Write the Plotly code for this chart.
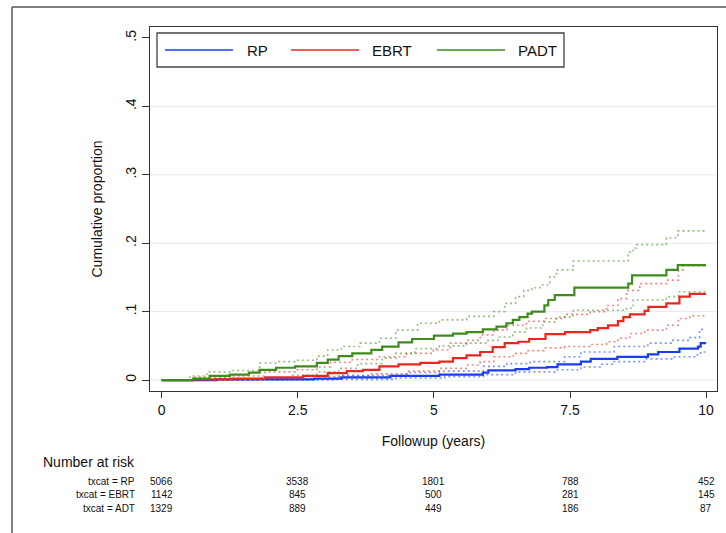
import plotly.graph_objects as go

# ---------------- data ----------------
SERIES_NAMES = ["RP", "EBRT", "PADT"]

# PADT (green)
padt_x = [0, 0.58, 0.88, 1.25, 1.6, 1.8, 2.1, 2.45, 2.85, 3.05, 3.25, 3.5, 3.85, 4.05, 4.35, 4.6, 5.0, 5.35,
          5.6, 5.9, 6.15, 6.33, 6.45, 6.57, 6.72, 6.8, 7.03, 7.1, 7.22, 7.58, 8.57, 8.64, 9.27, 9.48, 10.0]
padt_y = [0, 0.002, 0.006, 0.008, 0.011, 0.015, 0.018, 0.020, 0.025, 0.030, 0.035, 0.039, 0.044, 0.049, 0.055,
          0.060, 0.065, 0.068, 0.070, 0.074, 0.078, 0.083, 0.088, 0.092, 0.097, 0.100, 0.109, 0.117, 0.124,
          0.135, 0.141, 0.153, 0.161, 0.168, 0.168]
padt_hi_x = [0, 0.52, 0.83, 1.3, 1.8, 2.1, 2.45, 2.85, 3.05, 3.3, 3.64, 4.0, 4.3, 4.7, 5.1, 5.6, 6.1, 6.3, 6.5,
             6.65, 6.8, 6.95, 7.13, 7.25, 7.56, 8.57, 8.66, 8.72, 9.27, 9.48, 10.0]
padt_hi_y = [0, 0.006, 0.012, 0.014, 0.025, 0.027, 0.029, 0.035, 0.044, 0.049, 0.054, 0.061, 0.073, 0.083,
             0.088, 0.093, 0.100, 0.112, 0.122, 0.131, 0.135, 0.139, 0.151, 0.161, 0.174, 0.187, 0.193, 0.198,
             0.208, 0.218, 0.218]
padt_lo_x = [0, 1.8, 2.4, 2.85, 3.25, 3.6, 4.05, 4.3, 4.65, 5.1, 5.6, 5.95, 6.2, 6.45, 6.7, 7.0, 7.25, 7.56,
             8.54, 8.66, 9.27, 9.49, 10.0]
padt_lo_y = [0, 0.0025, 0.007, 0.012, 0.017, 0.024, 0.032, 0.039, 0.046, 0.050, 0.054, 0.058, 0.063, 0.070,
             0.076, 0.085, 0.092, 0.102, 0.105, 0.117, 0.122, 0.129, 0.129]

# EBRT (red)
ebrt_x = [0, 0.58, 1.3, 1.9, 2.6, 3.05, 3.4, 3.7, 4.0, 4.35, 4.75, 5.1, 5.35, 5.6, 5.85, 6.08, 6.3, 6.55, 6.75,
          7.05, 7.41, 7.87, 8.01, 8.2, 8.38, 8.48, 8.6, 8.87, 8.94, 9.27, 9.51, 9.7, 10.0]
ebrt_y = [0, 0.001, 0.002, 0.004, 0.006, 0.010, 0.013, 0.015, 0.020, 0.023, 0.025, 0.027, 0.032, 0.036, 0.041,
          0.048, 0.054, 0.056, 0.060, 0.067, 0.070, 0.073, 0.076, 0.080, 0.086, 0.092, 0.096, 0.101, 0.107,
          0.112, 0.122, 0.126, 0.126]
ebrt_hi_x = [0, 0.58, 1.3, 1.9, 2.45, 2.85, 3.1, 3.5, 4.0, 4.5, 4.99, 5.3, 5.6, 5.85, 6.1, 6.34, 6.7, 7.02, 7.4,
             7.87, 8.17, 8.38, 8.54, 8.78, 9.27, 9.49, 9.58, 10.0]
ebrt_hi_y = [0, 0.004, 0.006, 0.012, 0.015, 0.019, 0.026, 0.030, 0.034, 0.039, 0.044, 0.054, 0.058, 0.066,
             0.073, 0.080, 0.086, 0.090, 0.096, 0.100, 0.109, 0.119, 0.131, 0.141, 0.146, 0.161, 0.167, 0.167]
ebrt_lo_x = [0, 1.6, 2.6, 3.2, 3.8, 4.5, 5.1, 5.6, 5.85, 6.1, 6.46, 6.73, 7.02, 7.4, 7.87, 8.17, 8.38, 8.6,
             8.87, 9.27, 9.49, 9.7, 10.0]
ebrt_lo_y = [0, 0.001, 0.002, 0.006, 0.009, 0.013, 0.017, 0.022, 0.027, 0.034, 0.039, 0.043, 0.047, 0.049,
             0.052, 0.056, 0.061, 0.068, 0.073, 0.080, 0.090, 0.094, 0.094]

# RP (blue)
rp_x = [0, 1.0, 2.8, 3.3, 4.2, 5.1, 5.9, 6.0, 6.5, 6.75, 7.08, 7.27, 7.7, 7.88, 8.37, 8.93, 9.12, 9.51, 9.85,
        9.9, 10.0]
rp_y = [0, 0.001, 0.002, 0.004, 0.006, 0.008, 0.011, 0.014, 0.016, 0.018, 0.019, 0.023, 0.027, 0.031, 0.034,
        0.0375, 0.041, 0.046, 0.049, 0.054, 0.054]
rp_hi_x = [0, 1.6, 2.85, 3.3, 4.5, 5.1, 5.91, 6.34, 6.77, 7.4, 7.7, 8.31, 8.93, 9.36, 9.7, 9.88, 10.0]
rp_hi_y = [0, 0.002, 0.005, 0.007, 0.011, 0.013, 0.020, 0.024, 0.027, 0.034, 0.041, 0.049, 0.054, 0.058,
           0.062, 0.074, 0.074]
rp_lo_x = [0, 3.2, 4.3, 5.2, 5.91, 6.5, 7.27, 7.7, 8.05, 8.31, 8.9, 9.42, 9.82, 9.9, 10.0]
rp_lo_y = [0, 0.001, 0.003, 0.005, 0.008, 0.012, 0.015, 0.019, 0.023, 0.027, 0.031, 0.034, 0.037, 0.041,
           0.041]

# axis ticks
X_TICKS = [0, 2.5, 5, 7.5, 10]
X_TICK_TEXT = ["0", "2.5", "5", "7.5", "10"]
Y_TICKS = [0, 0.1, 0.2, 0.3, 0.4, 0.5]
Y_TICK_TEXT = ["0", ".1", ".2", ".3", ".4", ".5"]
GRID_Y = [0, 0.1, 0.2, 0.3, 0.4]

# number at risk
RISK_TIMES = [0, 2.5, 5, 7.5, 10]
RISK_LABELS = ["txcat = RP", "txcat = EBRT", "txcat = ADT"]
RISK_RP = [5066, 3538, 1801, 788, 452]
RISK_EBRT = [1142, 845, 500, 281, 145]
RISK_ADT = [1329, 889, 449, 186, 87]

# ---------------- style ----------------
FONT = "Liberation Sans, Arial, Helvetica, sans-serif"
COLORS = {"RP": "#1a3cf0", "EBRT": "#e8281e", "PADT": "#3f8c1c"}
AX = "#333333"

W, H = 726, 533
ML, MR, MT, MB = 150, 9, 27, 142
PW, PH = W - ML - MR, H - MT - MB


def px_x(px):
    return (px - ML) / PW


def px_y(py):
    return (H - MB - py) / PH


fig = go.Figure()

series = [
    ("RP", rp_x, rp_y, rp_hi_x, rp_hi_y, rp_lo_x, rp_lo_y),
    ("EBRT", ebrt_x, ebrt_y, ebrt_hi_x, ebrt_hi_y, ebrt_lo_x, ebrt_lo_y),
    ("PADT", padt_x, padt_y, padt_hi_x, padt_hi_y, padt_lo_x, padt_lo_y),
]

for name, x, y, hx, hy, lx, ly in series:
    c = COLORS[name]
    for cx, cy in ((hx, hy), (lx, ly)):
        fig.add_trace(go.Scatter(x=cx, y=cy, mode="lines", line_shape="hv",
                                 line=dict(color=c, width=1.6, dash="2px,3px"),
                                 opacity=0.55, showlegend=False, hoverinfo="skip"))
for name, x, y, hx, hy, lx, ly in series:
    fig.add_trace(go.Scatter(x=x, y=y, mode="lines", line_shape="hv", name=name,
                             line=dict(color=COLORS[name], width=2.2), showlegend=False))

shapes = []
# gridlines
for gy in GRID_Y:
    shapes.append(dict(type="line", xref="paper", yref="y", x0=0, x1=1, y0=gy, y1=gy,
                       line=dict(color="#e3ebed", width=1), layer="below"))
# outer frame (cropped on the right and bottom)
shapes.append(dict(type="line", xref="paper", yref="paper", x0=px_x(12), x1=px_x(12),
                   y0=px_y(540), y1=px_y(7), line=dict(color="#555555", width=1.5)))
shapes.append(dict(type="line", xref="paper", yref="paper", x0=px_x(12), x1=px_x(740),
                   y0=px_y(7), y1=px_y(7), line=dict(color="#555555", width=1.5)))
# legend box
shapes.append(dict(type="rect", xref="paper", yref="paper", x0=px_x(157), x1=px_x(564),
                   y0=px_y(67), y1=px_y(33), line=dict(color="#444444", width=1.3),
                   fillcolor="white"))
leg_line_px = [165, 291, 437]
leg_text_px = [245, 370, 516]
annotations = []
for i, name in enumerate(SERIES_NAMES):
    shapes.append(dict(type="line", xref="paper", yref="paper",
                       x0=px_x(leg_line_px[i]), x1=px_x(leg_line_px[i] + 68),
                       y0=px_y(50), y1=px_y(50), line=dict(color=COLORS[name], width=1.6)))
    annotations.append(dict(xref="paper", yref="paper", x=px_x(leg_text_px[i]), y=px_y(50),
                            text=name, showarrow=False, xanchor="left", yanchor="middle",
                            font=dict(family=FONT, size=15, color="#111111")))

# number at risk table
annotations.append(dict(xref="paper", yref="paper", x=px_x(41), y=px_y(462), text="Number at risk",
                        showarrow=False, xanchor="left", yanchor="middle",
                        font=dict(family=FONT, size=14, color="#111111")))
row_py = [481, 494.5, 508]
for r, (lab, vals) in enumerate(zip(RISK_LABELS, [RISK_RP, RISK_EBRT, RISK_ADT])):
    annotations.append(dict(xref="paper", yref="paper", x=px_x(137), y=px_y(row_py[r]), text=lab,
                            showarrow=False, xanchor="right", yanchor="middle",
                            font=dict(family=FONT, size=10, color="#111111")))
    for t, v in zip(RISK_TIMES, vals):
        annotations.append(dict(xref="x", yref="paper", x=t, y=px_y(row_py[r]), text=str(v),
                                showarrow=False, xanchor="center", yanchor="middle",
                                font=dict(family=FONT, size=10, color="#111111")))

fig.update_layout(
    width=W, height=H, autosize=False,
    margin=dict(l=ML, r=MR, t=MT, b=MB),
    paper_bgcolor="white", plot_bgcolor="white",
    font=dict(family=FONT, size=14, color="#111111"),
    showlegend=False,
    shapes=shapes, annotations=annotations,
    xaxis=dict(range=[-0.215, 10.2], tickvals=X_TICKS, ticktext=X_TICK_TEXT, showgrid=False,
               zeroline=False, showline=True, mirror=True, linecolor=AX, linewidth=1.3,
               ticks="outside", ticklen=6, tickwidth=1.3, tickcolor=AX,
               tickfont=dict(family=FONT, size=14, color="#111111"),
               title=dict(text="Followup (years)", standoff=19,
                          font=dict(family=FONT, size=14, color="#111111"))),
    yaxis=dict(range=[-0.016, 0.516], tickvals=Y_TICKS, ticktext=Y_TICK_TEXT, showgrid=False,
               zeroline=False, showline=True, mirror=True, linecolor=AX, linewidth=1.3,
               ticks="outside", ticklen=7, tickwidth=1.3, tickcolor=AX, tickangle=-90,
               tickfont=dict(family=FONT, size=14, color="#111111"),
               title=dict(text="Cumulative proportion", standoff=17,
                          font=dict(family=FONT, size=14, color="#111111"))),
)

fig.write_html("out.html", config={"displayModeBar": False},
               post_script="document.body.style.margin='0';")
